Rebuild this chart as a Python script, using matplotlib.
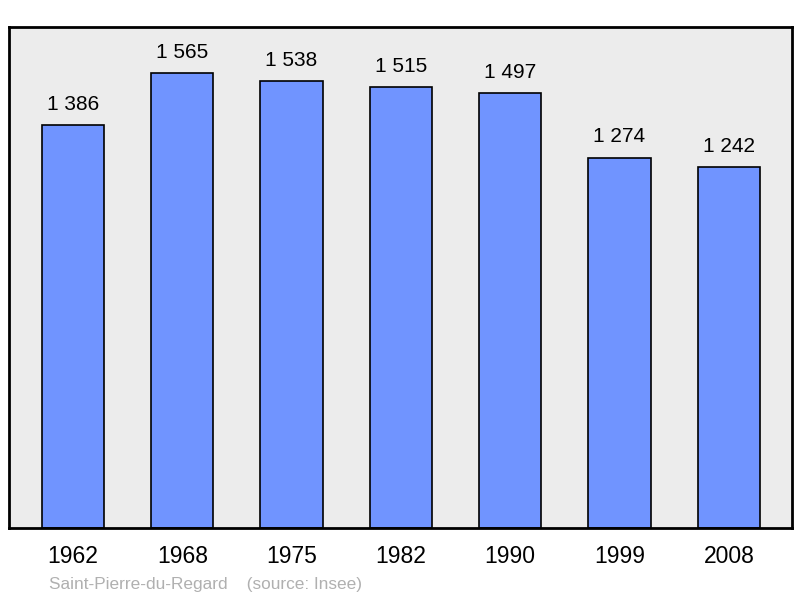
import matplotlib.pyplot as plt

years = ["1962", "1968", "1975", "1982", "1990", "1999", "2008"]
population = [1386, 1565, 1538, 1515, 1497, 1274, 1242]
value_labels = ["1 386", "1 565", "1 538", "1 515", "1 497", "1 274", "1 242"]

plt.rcParams['font.family'] = ['Liberation Sans', 'DejaVu Sans']

fig = plt.figure(figsize=(8, 5.98), dpi=100)
ax = fig.add_axes([9 / 800, 70 / 598, 783 / 800, 501 / 598])
ax.set_facecolor("#ececec")

x = range(len(years))
ax.bar(x, population, width=0.57, color="#7094ff", edgecolor="black", linewidth=1.2, zorder=2)
for xi, v, lab in zip(x, population, value_labels):
    ax.annotate(lab, (xi, v), xytext=(0, 8), textcoords="offset points",
                ha="center", va="bottom", fontsize=15)

ax.set_xlim(-0.585, 6.578)
ax.set_ylim(0, 1723)
ax.set_yticks([])
ax.set_xticks(list(x))
ax.set_xticklabels(years, fontsize=16.5)
ax.tick_params(axis="x", length=0, pad=12)
for s in ax.spines.values():
    s.set_linewidth(2)

fig.text(49 / 800, 1 - 584 / 598, "Saint-Pierre-du-Regard    (source: Insee)",
         fontsize=12.4, color="#b0b0b0", ha="left", va="center")

fig.savefig("out.png", dpi=100)
